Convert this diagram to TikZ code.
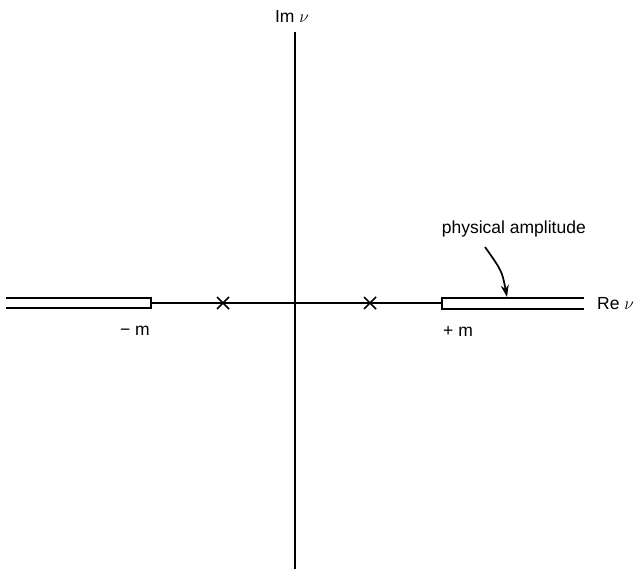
\documentclass[tikz,border=0pt]{standalone}
\usepackage{fontspec}
\setmainfont{Liberation Sans}
\usetikzlibrary{arrows.meta}
\begin{document}
\begin{tikzpicture}[x=1pt,y=-1pt,
  axis/.style={line width=1.6pt},
  cutline/.style={line width=2.1pt},
  crossmark/.style={line width=1.7pt},
  lbl/.style={inner sep=0pt, font=\fontsize{17.5}{20}\selectfont},
  pointer/.style={line width=1.7pt,-{Stealth[length=12pt,width=8pt]}}]
\useasboundingbox (0,0) rectangle (637,569);
% axes
\coordinate (vtop) at (295,32);
\coordinate (vbot) at (295,569);
\draw[axis] (vtop) -- (vbot);
\coordinate (lcut) at (151,303);
\coordinate (rcut) at (442,303);
\draw[axis] (lcut) -- (rcut);
% left cut
\coordinate (lu0) at (6,298);  \coordinate (lu1) at (151,298);
\coordinate (ll0) at (6,308);  \coordinate (ll1) at (151,308);
\draw[cutline] (lu0) -- (lu1) -- (ll1) -- (ll0);
% right cut
\coordinate (ru0) at (584,298); \coordinate (ru1) at (442,298);
\coordinate (rl0) at (584,309); \coordinate (rl1) at (442,309);
\draw[cutline] (ru0) -- (ru1) -- (rl1) -- (rl0);
% poles
\coordinate (p1) at (223,303);
\coordinate (p2) at (370,303);
\foreach \p in {p1,p2}{
  \draw[crossmark] ([shift={(-6,-6)}]\p) -- ([shift={(6,6)}]\p);
  \draw[crossmark] ([shift={(-6,6)}]\p) -- ([shift={(6,-6)}]\p);
}
% labels
\node[lbl] (im) at (292,16) {Im $\nu$};
\node[lbl,anchor=west] (re) at (597,304) {Re $\nu$};
\node[lbl,anchor=east] (mm) at (150,331) {− m};
\node[lbl,anchor=west] (pm) at (443,331) {+ m};
\node[lbl,anchor=east] (phys) at (586,229) {physical amplitude};
\coordinate (tip) at (507,297);
\coordinate (start) at (485,247);
\draw[pointer] (start) .. controls (502,271) .. (tip);
\end{tikzpicture}
\end{document}
